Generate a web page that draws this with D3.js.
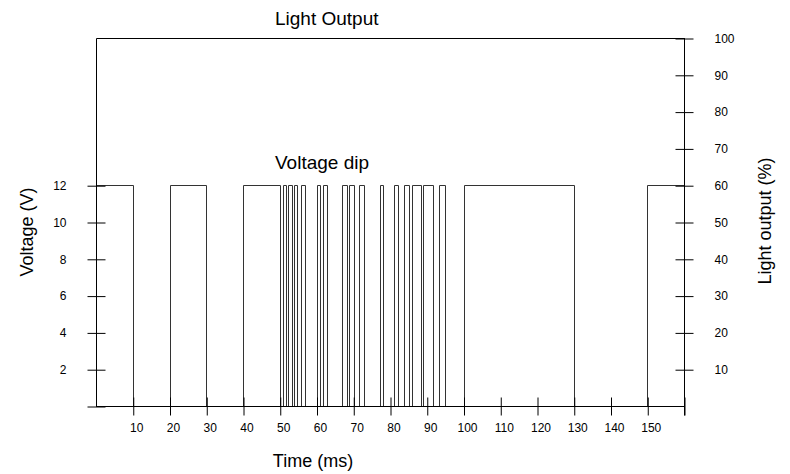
<!DOCTYPE html>
<html>
<head>
<meta charset="utf-8">
<script src="https://cdn.jsdelivr.net/npm/d3@7"></script>
<style>
  body { margin: 0; background: #fff; }
  svg { font-family: "Liberation Sans", Arial, sans-serif; }
</style>
</head>
<body>
<div id="chart"></div>
<script>
// intervallen (ms) waarin de spanning hoog is
var pulseStart = [0, 20, 40, 50.8, 52.3, 53.8, 55.8, 60.0, 61.8, 67.0, 68.8, 71.5, 77.2, 81.2, 83.8, 86.0, 89.0, 93.2, 100, 150];
var pulseEnd   = [10, 30, 50, 51.8, 53.2, 54.6, 56.8, 61.0, 62.8, 68.2, 70.2, 72.8, 78.2, 82.2, 85.2, 88.5, 91.7, 95.0, 130, 160];
var highVoltage = 12;

// lichtopbrengst blijft op 100%
var lightTime  = [0, 0, 160];
var lightLevel = [0, 100, 100];

// ticks
var timeTicks    = [10, 20, 30, 40, 50, 60, 70, 80, 90, 100, 110, 120, 130, 140, 150, 160];
var voltageTicks = [0, 2, 4, 6, 8, 10, 12];
var lightTicks   = [10, 20, 30, 40, 50, 60, 70, 80, 90, 100];

const width = 790, height = 474;

var svg = d3.select("#chart").append("svg")
    .attr("width", width)
    .attr("height", height);

var x = d3.scaleLinear().domain([0, 160]).range([96, 684]);
var yV = d3.scaleLinear().domain([0, 20]).range([406, 38]);
var yL = d3.scaleLinear().domain([0, 100]).range([406, 38]);

// stappen opbouwen uit de pulsen
var steps = [];
pulseStart.forEach(function(s, i) {
  steps.push([s, 0], [s, highVoltage], [pulseEnd[i], highVoltage], [pulseEnd[i], 0]);
});

var line = d3.line()
    .x(function(d) { return Math.round(x(d[0])) + 0.5; })
    .y(function(d) { return Math.round(yV(d[1])) + 0.5; });

svg.append("path")
    .datum(steps)
    .attr("fill", "none")
    .attr("stroke", "#333")
    .attr("stroke-width", 1)
    .attr("d", line);

// lichtlijn
svg.append("path")
    .datum(lightTime.map(function(t, i) { return [t, lightLevel[i]]; }))
    .attr("fill", "none")
    .attr("stroke", "#000")
    .attr("stroke-width", 1)
    .attr("d", d3.line()
        .x(function(d) { return Math.round(x(d[0])) + 0.5; })
        .y(function(d) { return Math.round(yL(d[1])) + 0.5; }));

// x-as
var xAxis = svg.append("g")
    .attr("transform", "translate(0.5," + (Math.round(yV(0)) + 0.5) + ")")
    .call(d3.axisBottom(x)
        .tickValues(timeTicks)
        .tickSize(9)
        .tickPadding(8)
        .tickFormat(function(d) { return d == 160 ? "" : d; }));
xAxis.select(".domain").remove();
xAxis.selectAll(".tick line").attr("y1", -9);
xAxis.append("line")
    .attr("x1", x(0) - 0.5).attr("x2", x(160))
    .attr("stroke", "#000");
xAxis.selectAll("text")
    .attr("dx", 3)
    .style("font-size", "12px")
    .attr("fill", "#000");

// linker as (spanning)
var leftAxis = svg.append("g")
    .attr("transform", "translate(" + (Math.round(x(0)) + 0.5) + ",0.5)")
    .call(d3.axisLeft(yV)
        .tickValues(voltageTicks)
        .tickSize(9)
        .tickPadding(21)
        .tickFormat(function(d) { return d == 0 ? "" : d; }));
leftAxis.select(".domain").remove();
leftAxis.selectAll(".tick line").attr("x1", 9);
leftAxis.selectAll("text").style("font-size", "12px").attr("fill", "#000");

// rechter as (licht)
var rightAxis = svg.append("g")
    .attr("transform", "translate(" + (Math.round(x(160)) + 0.5) + ",0.5)")
    .call(d3.axisRight(yL)
        .tickValues(lightTicks)
        .tickSize(9)
        .tickPadding(21));
rightAxis.select(".domain").remove();
rightAxis.selectAll(".tick line").attr("x1", -9);
rightAxis.append("line")
    .attr("y1", yL(100) - 0.5).attr("y2", yL(0) + 9)
    .attr("stroke", "#000");
rightAxis.selectAll("text").style("font-size", "12px").attr("fill", "#000");

// teksten
svg.append("text")
    .attr("x", 275).attr("y", 25)
    .style("font-size", "19px")
    .text("Light Output");

svg.append("text")
    .attr("x", 275).attr("y", 169)
    .style("font-size", "19px")
    .text("Voltage dip");

svg.append("text")
    .attr("x", 313).attr("y", 467)
    .attr("text-anchor", "middle")
    .style("font-size", "18px")
    .text("Time (ms)");

svg.append("text")
    .attr("transform", "translate(33,232) rotate(-90)")
    .attr("text-anchor", "middle")
    .style("font-size", "18px")
    .text("Voltage (V)");

svg.append("text")
    .attr("transform", "translate(771,221) rotate(-90)")
    .attr("text-anchor", "middle")
    .style("font-size", "18px")
    .text("Light output (%)");
</script>
</body>
</html>
